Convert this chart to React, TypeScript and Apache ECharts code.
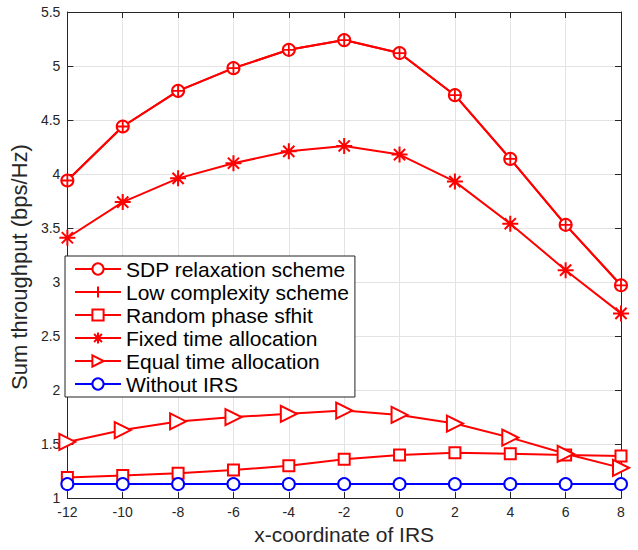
import React, { useEffect, useRef } from "react";
import * as echarts from "echarts";

// IRS position along the x axis
const irsX = [-12, -10, -8, -6, -4, -2, 0, 2, 4, 6, 8];

// Sum throughput (bps/Hz) for each scheme
const sdpRelaxation = [3.94, 4.44, 4.77, 4.98, 5.15, 5.24, 5.12, 4.73, 4.14, 3.53, 2.97];
const lowComplexity = [3.94, 4.44, 4.77, 4.98, 5.15, 5.24, 5.12, 4.73, 4.14, 3.53, 2.97];
const randomPhase = [1.19, 1.21, 1.23, 1.26, 1.3, 1.36, 1.4, 1.42, 1.41, 1.4, 1.39];
const fixedTime = [3.41, 3.74, 3.96, 4.1, 4.21, 4.26, 4.18, 3.93, 3.54, 3.11, 2.71];
const equalTime = [1.52, 1.63, 1.71, 1.75, 1.78, 1.81, 1.77, 1.69, 1.56, 1.41, 1.28];
const withoutIrs = [1.13, 1.13, 1.13, 1.13, 1.13, 1.13, 1.13, 1.13, 1.13, 1.13, 1.13];

const seriesNames = [
  "SDP relaxation scheme",
  "Low complexity scheme",
  "Random phase sfhit",
  "Fixed time allocation",
  "Equal time allocation",
  "Without IRS",
];

const FONT = "'Liberation Sans', Arial, Helvetica, sans-serif";
const AXIS_COLOR = "#262626";
const RED = "#ff0000";
const BLUE = "#0000ff";

const PLUS = "path://M0,-1V1M-1,0H1";
const STAR = "path://M0,-1V1M-1,0H1M-0.7,-0.7L0.7,0.7M-0.7,0.7L0.7,-0.7";

const pairs = (ys: number[]) => irsX.map((x, i) => [x, ys[i]]);

export default function App() {
  const ref = useRef<HTMLDivElement>(null);

  useEffect(() => {
    if (!ref.current) return;
    const chart = echarts.init(ref.current, undefined, { renderer: "svg" });

    const lineSeries = (
      name: string,
      ys: number[],
      color: string,
      symbol: string,
      symbolSize: number,
      extra: any = {}
    ) => ({
      name,
      type: "line",
      data: pairs(ys),
      symbol,
      symbolSize,
      showAllSymbol: true,
      clip: false,
      lineStyle: { color, width: 2 },
      itemStyle: { color, borderColor: color, borderWidth: 1.8 },
      ...extra,
    });

    const frameAxis = {
      axisLine: { show: true, onZero: false, lineStyle: { color: AXIS_COLOR, width: 1 } },
      axisTick: { show: true, inside: true, length: 6, lineStyle: { color: AXIS_COLOR } },
    };

    const option: any = {
      animation: false,
      backgroundColor: "#ffffff",
      textStyle: { fontFamily: FONT },
      grid: { left: 64, right: 17, top: 12, bottom: 46, containLabel: false },
      legend: {
        orient: "vertical",
        left: 65,
        top: 256,
        backgroundColor: "#ffffff",
        borderColor: "#222222",
        borderWidth: 1,
        borderRadius: 0,
        padding: [2, 6, 2, 9],
        itemGap: 1,
        itemWidth: 46,
        itemHeight: 14,
        data: seriesNames,
        textStyle: { fontFamily: FONT, fontSize: 21, color: "#000000", lineHeight: 22 },
      },
      xAxis: [
        {
          type: "value",
          min: -12,
          max: 8,
          interval: 2,
          name: "x-coordinate of IRS",
          nameLocation: "middle",
          nameGap: 23,
          nameTextStyle: { fontFamily: FONT, fontSize: 21, color: AXIS_COLOR },
          ...frameAxis,
          axisLabel: { fontFamily: FONT, fontSize: 14, color: AXIS_COLOR, margin: 7 },
          splitLine: { show: true, lineStyle: { color: "#e3e3e3", width: 1 } },
        },
        {
          type: "value",
          position: "top",
          min: -12,
          max: 8,
          interval: 2,
          ...frameAxis,
          axisLabel: { show: false },
          splitLine: { show: false },
        },
      ],
      yAxis: [
        {
          type: "value",
          min: 1,
          max: 5.5,
          interval: 0.5,
          name: "Sum throughput (bps/Hz)",
          nameLocation: "middle",
          nameGap: 28,
          nameTextStyle: {
            fontFamily: FONT,
            fontSize: 22,
            color: AXIS_COLOR,
            padding: [0, 24, 0, 0],
          },
          ...frameAxis,
          axisLabel: { fontFamily: FONT, fontSize: 14, color: AXIS_COLOR, margin: 7 },
          splitLine: { show: true, lineStyle: { color: "#e3e3e3", width: 1 } },
        },
        {
          type: "value",
          position: "right",
          min: 1,
          max: 5.5,
          interval: 0.5,
          ...frameAxis,
          axisLabel: { show: false },
          splitLine: { show: false },
        },
      ],
      series: [
        lineSeries(seriesNames[0], sdpRelaxation, RED, "emptyCircle", 12),
        lineSeries(seriesNames[1], lowComplexity, RED, PLUS, 13),
        lineSeries(seriesNames[2], randomPhase, RED, "emptyRect", 11),
        lineSeries(seriesNames[3], fixedTime, RED, STAR, 16, {
          itemStyle: { color: RED, borderColor: RED, borderWidth: 2 },
        }),
        lineSeries(seriesNames[4], equalTime, RED, "emptyTriangle", 16, { symbolRotate: -90 }),
        lineSeries(seriesNames[5], withoutIrs, BLUE, "emptyCircle", 12),
      ],
    };

    chart.setOption(option);
    return () => chart.dispose();
  }, []);

  return (
    <div
      ref={ref}
      style={{ position: "fixed", left: 0, top: 0, width: 638, height: 550, background: "#fff" }}
    />
  );
}
